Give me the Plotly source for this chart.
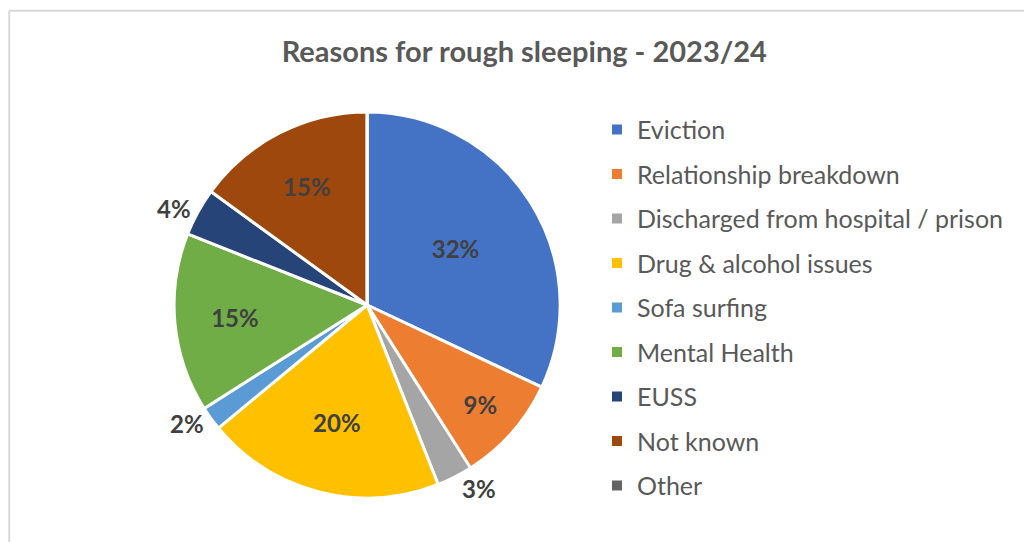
import plotly.graph_objects as go

categories = ["Eviction", "Relationship breakdown", "Discharged from hospital / prison",
              "Drug & alcohol issues", "Sofa surfing", "Mental Health", "EUSS",
              "Not known", "Other"]
values = [32, 9, 3, 20, 2, 15, 4, 15, 0]
colors = ["#4472C4", "#ED7D31", "#A5A5A5", "#FFC000", "#5B9BD5", "#70AD47",
          "#264478", "#9E480E", "#636363"]
label_pos = ["inside", "inside", "outside", "inside", "outside", "inside",
             "outside", "inside", "none"]

FONT = "Lato"

fig = go.Figure()
fig.add_trace(go.Pie(
    labels=categories, values=values, sort=False, direction="clockwise",
    rotation=0, marker=dict(colors=colors, line=dict(color="white", width=3)),
    texttemplate="%{percent:.0%}", textposition=label_pos,
    textfont=dict(family=FONT, size=24, color="#404040", weight="bold"),
    insidetextorientation="horizontal",
    showlegend=False, hoverinfo="label+value",
    domain=dict(x=[0.17, 0.547], y=[0.0775, 0.797]),
))

for i, (cat, col) in enumerate(zip(categories, colors)):
    fig.add_trace(go.Scatter(
        x=[None], y=[None], mode="markers", name=cat, legendgroup=f"g{i}",
        marker=dict(symbol="square", size=10, color=col),
        showlegend=True,
    ))

fig.update_layout(
    width=1024, height=542,
    margin=dict(l=0, r=0, t=0, b=0),
    paper_bgcolor="white", plot_bgcolor="white",
    xaxis=dict(visible=False), yaxis=dict(visible=False),
    title=dict(text="<b>Reasons for rough sleeping - 2023/24</b>",
               x=0.512, xanchor="center", y=0.905, yanchor="middle",
               font=dict(family=FONT, size=29, color="#595959")),
    legend=dict(x=0.583, xanchor="left", y=0.803, yanchor="top",
                font=dict(family=FONT, size=25, color="#595959"),
                tracegroupgap=9, bgcolor="rgba(0,0,0,0)"),
    shapes=[
        dict(type="line", xref="paper", yref="paper", x0=0.009, x1=0.009, y0=0, y1=0.98,
             line=dict(color="#D9D9D9", width=2)),
        dict(type="line", xref="paper", yref="paper", x0=0.009, x1=1.0, y0=0.98, y1=0.98,
             line=dict(color="#D9D9D9", width=2)),
    ],
)

fig.write_html("out.html")
